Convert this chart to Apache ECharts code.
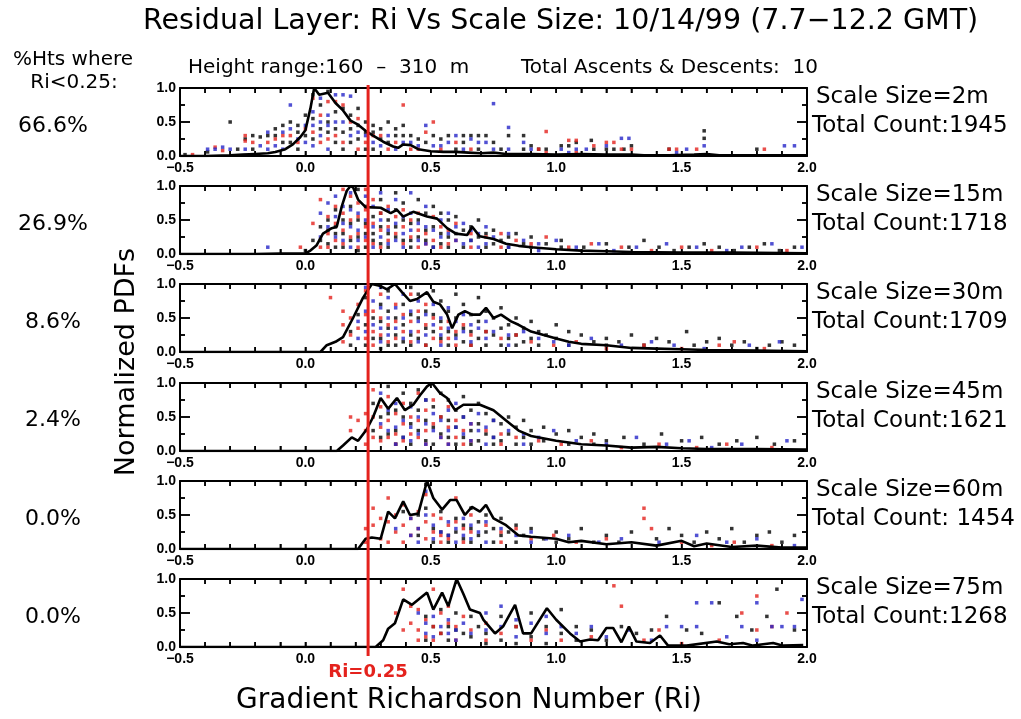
<!DOCTYPE html>
<html><head><meta charset="utf-8">
<script src="https://cdn.jsdelivr.net/npm/echarts@6/dist/echarts.min.js"></script>
<style>html,body{margin:0;padding:0;background:#fff}#wrap{position:relative;width:1021px;height:719px;background:#fff;overflow:hidden}</style>
</head><body><div id="wrap"></div>
<script>
// ---------- labels ----------
const titleText = 'Residual Layer: Ri Vs Scale Size: 10/14/99 (7.7\u221212.2 GMT)';
const heightRangeText = 'Height range:160  \u2013  310  m';
const ascentsText = 'Total Ascents & Descents:  10';
const scaleSizes = ['2m', '15m', '30m', '45m', '60m', '75m'];
const totalCounts = ['1945', '1718', '1709', '1621', ' 1454', '1268'];
const pctBelow = ['66.6%', '26.9%', '8.6%', '2.4%', '0.0%', '0.0%'];
const riCritical = 0.25;
const xTickValues = [-0.5,-0.4,-0.3,-0.2,-0.1,0.0,0.1,0.2,0.3,0.4,0.5,0.6,0.7,0.8,0.9,1.0,1.1,1.2,1.3,1.4,1.5,1.6,1.7,1.8,1.9,2.0];
const yTickValues = [0.0, 0.25, 0.5, 0.75, 1.0];

// ---------- normalized PDF lines ----------
const line2m = [[-0.5,0],[-0.4,0],[-0.3,0.01],[-0.25,0.02],[-0.2,0.03],[-0.15,0.04],[-0.12,0.06],[-0.08,0.1],[-0.05,0.17],[-0.02,0.28],[0.0,0.38],[0.02,0.7],[0.035,1.0],[0.055,0.9],[0.09,0.93],[0.12,0.78],[0.15,0.67],[0.18,0.52],[0.21,0.46],[0.24,0.37],[0.27,0.3],[0.31,0.21],[0.35,0.14],[0.37,0.12],[0.39,0.17],[0.42,0.16],[0.45,0.1],[0.5,0.07],[0.55,0.06],[0.6,0.06],[0.65,0.05],[0.7,0.04],[0.75,0.05],[0.8,0.03],[0.9,0.03],[1.0,0.02],[1.1,0.03],[1.2,0.02],[1.3,0.02],[1.35,0.01],[1.45,0.01],[1.55,0.02],[1.6,0.03],[1.65,0.01],[1.8,0.01],[2.0,0.01]];
const line15m = [[-0.5,0],[-0.2,0],[-0.1,0.005],[0.0,0.01],[0.02,0.05],[0.045,0.13],[0.07,0.3],[0.105,0.38],[0.125,0.4],[0.145,0.7],[0.165,0.93],[0.18,1.0],[0.19,0.98],[0.21,0.8],[0.24,0.69],[0.3,0.68],[0.34,0.6],[0.365,0.65],[0.39,0.55],[0.43,0.62],[0.485,0.55],[0.525,0.52],[0.565,0.38],[0.6,0.3],[0.645,0.28],[0.665,0.4],[0.695,0.26],[0.75,0.22],[0.8,0.15],[0.85,0.12],[0.9,0.1],[1.0,0.07],[1.1,0.05],[1.2,0.04],[1.3,0.03],[1.5,0.02],[1.7,0.02],[2.0,0.01]];
const line30m = [[-0.5,0],[0.06,0],[0.085,0.1],[0.12,0.15],[0.15,0.22],[0.19,0.5],[0.23,0.8],[0.265,1.0],[0.3,0.97],[0.325,0.92],[0.357,1.0],[0.385,0.88],[0.417,0.75],[0.445,0.78],[0.485,0.88],[0.51,0.74],[0.537,0.7],[0.565,0.55],[0.585,0.35],[0.61,0.55],[0.636,0.6],[0.664,0.55],[0.696,0.55],[0.72,0.65],[0.75,0.5],[0.78,0.55],[0.82,0.45],[0.85,0.4],[0.9,0.3],[0.95,0.25],[1.0,0.2],[1.05,0.15],[1.1,0.12],[1.2,0.1],[1.3,0.06],[1.4,0.05],[1.5,0.04],[1.6,0.03],[1.8,0.02],[2.0,0.01]];
const line45m = [[-0.5,0],[0.125,0],[0.15,0.08],[0.185,0.2],[0.21,0.15],[0.245,0.32],[0.27,0.5],[0.3,0.78],[0.33,0.62],[0.365,0.78],[0.397,0.6],[0.43,0.68],[0.457,0.82],[0.485,0.95],[0.505,1.0],[0.537,0.85],[0.565,0.78],[0.597,0.6],[0.63,0.68],[0.696,0.68],[0.75,0.6],[0.8,0.45],[0.85,0.3],[0.9,0.22],[1.0,0.15],[1.1,0.1],[1.2,0.08],[1.3,0.05],[1.4,0.06],[1.5,0.04],[1.6,0.03],[1.8,0.03],[2.0,0.02]];
const line60m = [[-0.5,0],[0.21,0],[0.24,0.15],[0.265,0.17],[0.3,0.15],[0.33,0.55],[0.357,0.45],[0.39,0.7],[0.417,0.5],[0.45,0.52],[0.485,1.0],[0.51,0.75],[0.545,0.58],[0.577,0.72],[0.603,0.72],[0.636,0.5],[0.664,0.62],[0.696,0.55],[0.72,0.65],[0.75,0.45],[0.8,0.35],[0.85,0.2],[0.9,0.18],[1.0,0.15],[1.05,0.1],[1.1,0.12],[1.2,0.07],[1.3,0.1],[1.4,0.05],[1.5,0.12],[1.55,0.04],[1.6,0.08],[1.7,0.03],[1.8,0.05],[1.9,0.02],[2.0,0.02]];
const line75m = [[-0.5,0],[0.28,0],[0.31,0.1],[0.33,0.27],[0.357,0.35],[0.39,0.7],[0.425,0.62],[0.485,0.8],[0.51,0.55],[0.545,0.8],[0.57,0.6],[0.603,1.0],[0.63,0.78],[0.656,0.55],[0.696,0.5],[0.71,0.4],[0.756,0.2],[0.788,0.3],[0.836,0.62],[0.868,0.2],[0.9,0.2],[0.963,0.57],[1.0,0.4],[1.055,0.2],[1.095,0.08],[1.135,0.11],[1.167,0.1],[1.2,0.28],[1.227,0.28],[1.26,0.07],[1.29,0.3],[1.32,0.08],[1.374,0.06],[1.414,0.17],[1.446,0.02],[1.52,0.02],[1.64,0.08],[1.69,0.04],[1.745,0.06],[1.785,0.02],[1.825,0.04],[1.865,0.06],[1.905,0.02],[1.985,0.03]];

// ---------- individual profile dots: [Ri, y, y, ...] columns ----------
const black2m = [[-0.48,0.02],[-0.39,0.06],[-0.3,0.5],[-0.27,0.1],[-0.24,0.25],[-0.21,0.3,0.1],[-0.18,0.28],[-0.15,0.3],[-0.12,0.4,0.3],[-0.09,0.45,0.2],[-0.06,0.5,0.2],[-0.03,0.45,0.35,0.1],[0.0,0.6,0.3],[0.03,0.9,0.55,0.25],[0.06,0.75,0.4],[0.09,0.95,0.5,0.35],[0.12,0.65,0.4,0.2],[0.15,0.7,0.35,0.1],[0.18,0.6,0.4,0.2],[0.21,0.7,0.45,0.25],[0.24,0.5,0.35,0.1],[0.27,0.45,0.35,0.1],[0.3,0.4,0.25],[0.33,0.5,0.2],[0.36,0.4,0.3],[0.39,0.45,0.3],[0.42,0.3],[0.45,0.25],[0.48,0.2],[0.51,0.3],[0.54,0.25],[0.57,0.3],[0.6,0.1],[0.63,0.3,0.2],[0.66,0.3],[0.69,0.3,0.1],[0.72,0.3],[0.75,0.2],[0.78,0.1],[0.81,0.3],[0.87,0.3,0.1],[0.9,0.15],[0.93,0.1],[0.96,0.1],[1.02,0.15],[1.05,0.15],[1.08,0.2],[1.14,0.23],[1.15,0.1],[1.2,0.1],[1.23,0.1],[1.27,0.1],[1.3,0.15],[1.45,0.1],[1.59,0.37,0.26],[1.8,0.1]];
const red2m = [[-0.45,0.02],[-0.36,0.13],[-0.33,0.08],[-0.24,0.3,0.22],[-0.21,0.2],[-0.15,0.2],[-0.12,0.25],[-0.09,0.3],[-0.06,0.3],[-0.03,0.2],[0.0,0.4],[0.03,0.85,0.35],[0.06,0.6,0.2],[0.09,0.8,0.25],[0.12,0.8,0.3],[0.15,0.75,0.2],[0.18,0.5],[0.21,0.55,0.1],[0.24,0.2],[0.27,0.3],[0.3,0.3],[0.33,0.1],[0.36,0.2],[0.39,0.75],[0.42,0.1],[0.45,0.1],[0.48,0.35],[0.51,0.5],[0.54,0.1],[0.6,0.2],[0.66,0.1],[0.93,0.1],[0.96,0.36,0.05],[1.05,0.23],[1.08,0.23,0.05],[1.15,0.15],[1.2,0.2],[1.23,0.2],[1.26,0.1],[1.3,0.1],[1.45,0.1],[1.48,0.1],[1.56,0.1],[1.83,0.1]];
const blue2m = [[-0.39,0.1],[-0.36,0.1],[-0.33,0.13],[-0.3,0.1],[-0.24,0.1],[-0.18,0.15],[-0.15,0.35,0.1],[-0.12,0.15],[-0.09,0.35,0.1],[-0.06,0.75,0.4],[-0.03,0.25],[0.0,0.45,0.2],[0.03,0.65,0.45,0.15],[0.06,0.85,0.5,0.3],[0.09,0.6,0.45,0.1],[0.12,0.9,0.5],[0.15,0.9,0.5],[0.18,0.88,0.3],[0.21,0.35],[0.24,0.3],[0.27,0.2],[0.3,0.15],[0.33,0.3],[0.36,0.1],[0.39,0.2],[0.42,0.2],[0.45,0.15],[0.48,0.45],[0.51,0.15],[0.54,0.15],[0.57,0.2],[0.6,0.3],[0.63,0.1],[0.66,0.25],[0.69,0.2],[0.72,0.2],[0.75,0.77,0.1],[0.81,0.42,0.1],[0.87,0.2],[0.9,0.1],[1.02,0.1],[1.05,0.05],[1.08,0.1],[1.12,0.1],[1.2,0.15],[1.26,0.26],[1.29,0.26],[1.48,0.05],[1.52,0.1],[1.59,0.15],[1.91,0.15],[1.95,0.15]];

const black15m = [[0.0,0.05],[0.03,0.2],[0.06,0.4,0.2],[0.09,0.5,0.35,0.15],[0.12,0.65,0.4,0.3,0.1],[0.15,0.5,0.3,0.1],[0.18,0.7,0.45,0.2],[0.21,0.95,0.5,0.25,0.05],[0.24,0.7,0.45,0.3,0.1],[0.27,0.55,0.3,0.2],[0.3,0.8,0.6,0.4,0.15],[0.33,0.5,0.3,0.1],[0.36,0.9,0.65,0.4,0.25],[0.39,0.75,0.5,0.2],[0.42,0.45,0.2,0.1],[0.45,0.8,0.5,0.25],[0.48,0.6,0.35,0.2],[0.51,0.7,0.4,0.1],[0.54,0.6,0.3,0.15],[0.57,0.5,0.25,0.1],[0.6,0.55,0.3],[0.63,0.35,0.1],[0.66,0.4,0.2],[0.69,0.5,0.25],[0.72,0.3,0.1],[0.75,0.35,0.15],[0.78,0.2],[0.81,0.25,0.1],[0.84,0.3],[0.87,0.15],[0.9,0.25,0.1],[0.96,0.15],[1.02,0.2,0.1],[1.11,0.1],[1.2,0.15],[1.29,0.1],[1.35,0.2],[1.41,0.1],[1.47,0.05],[1.53,0.1],[1.59,0.15],[1.65,0.1],[1.71,0.05],[1.77,0.1],[1.83,0.15],[1.89,0.05],[1.95,0.1]];
const red15m = [[-0.02,0.1],[0.03,0.45],[0.06,0.8,0.1],[0.09,0.55,0.3,0.1],[0.12,0.7,0.45,0.2],[0.15,0.95,0.6,0.35,0.15],[0.18,0.85,0.5,0.25],[0.21,0.75,0.55,0.3,0.1],[0.24,0.95,0.65,0.4,0.2],[0.27,0.8,0.45,0.15],[0.3,0.6,0.35,0.1],[0.33,0.7,0.4,0.2],[0.36,0.55,0.3],[0.39,0.65,0.4,0.15],[0.42,0.5,0.25],[0.45,0.6,0.35,0.1],[0.48,0.3,0.15],[0.51,0.55,0.2],[0.54,0.4,0.1],[0.57,0.35,0.15],[0.6,0.45,0.2],[0.66,0.3,0.1],[0.72,0.25],[0.78,0.3,0.1],[0.84,0.2],[0.9,0.15],[0.96,0.25],[1.05,0.1],[1.14,0.15],[1.26,0.1],[1.38,0.05],[1.5,0.1],[1.62,0.05],[1.8,0.1],[1.92,0.05]];
const blue15m = [[-0.15,0.1],[0.06,0.6,0.25],[0.09,0.75,0.4],[0.12,0.85,0.55,0.25],[0.15,0.7,0.45,0.2],[0.18,0.9,0.65,0.4,0.1],[0.21,0.6,0.35,0.2],[0.24,0.85,0.5,0.25],[0.27,0.7,0.4,0.1],[0.3,0.9,0.5,0.25],[0.33,0.65,0.35,0.15],[0.36,0.8,0.45,0.2],[0.39,0.55,0.3,0.1],[0.42,0.9,0.6,0.35],[0.45,0.45,0.2],[0.48,0.7,0.4,0.15],[0.51,0.35,0.1],[0.54,0.5,0.25],[0.57,0.6,0.3],[0.6,0.4,0.2],[0.63,0.45,0.15],[0.66,0.35,0.2],[0.69,0.3,0.1],[0.72,0.4,0.15],[0.75,0.25],[0.81,0.3,0.1],[0.87,0.2],[0.93,0.15,0.05],[1.0,0.2],[1.08,0.1],[1.17,0.15],[1.23,0.05],[1.32,0.1],[1.44,0.15],[1.56,0.1],[1.68,0.05],[1.74,0.1],[1.86,0.15],[1.98,0.1]];

const black30m = [[0.18,0.3,0.1],[0.21,0.55],[0.24,0.8,0.4,0.1],[0.27,0.5,0.2],[0.3,0.7,0.45,0.2,0.05],[0.33,0.9,0.6,0.35,0.1],[0.36,0.5,0.25,0.1],[0.39,0.7,0.4,0.15],[0.42,0.95,0.55,0.25,0.1],[0.45,0.85,0.5,0.2],[0.48,0.6,0.35,0.1],[0.51,0.9,0.55,0.3],[0.54,0.75,0.45,0.2],[0.57,0.6,0.3,0.1],[0.6,0.85,0.5,0.25],[0.63,0.7,0.35,0.15],[0.66,0.55,0.3,0.1],[0.69,0.8,0.45,0.2],[0.72,0.6,0.3,0.1],[0.75,0.5,0.25],[0.78,0.65,0.35,0.1],[0.81,0.4,0.2],[0.84,0.5,0.25,0.1],[0.87,0.35,0.15],[0.9,0.45,0.2],[0.93,0.3,0.1],[0.96,0.25],[1.0,0.4,0.2],[1.05,0.3,0.1],[1.1,0.25],[1.15,0.15],[1.2,0.2,0.1],[1.25,0.15],[1.3,0.25],[1.35,0.1],[1.4,0.2],[1.45,0.15],[1.52,0.3],[1.55,0.1],[1.6,0.15],[1.65,0.2],[1.7,0.1],[1.75,0.15],[1.8,0.05],[1.85,0.1],[1.9,0.15],[1.95,0.1]];
const red30m = [[0.1,0.8],[0.15,0.6,0.4,0.15],[0.18,0.5,0.25],[0.21,0.7,0.35],[0.24,0.9,0.55,0.2],[0.27,0.6,0.3,0.1],[0.3,0.85,0.5,0.25],[0.33,0.4,0.15],[0.36,0.7,0.45,0.2],[0.39,0.55,0.3],[0.42,0.85,0.45,0.15],[0.45,0.6,0.3],[0.48,0.7,0.4,0.1],[0.51,0.5,0.2],[0.54,0.35,0.15],[0.57,0.45,0.2],[0.6,0.3,0.1],[0.63,0.4],[0.66,0.25,0.1],[0.72,0.3],[0.78,0.2],[0.84,0.25],[0.9,0.15],[0.99,0.1],[1.08,0.15],[1.2,0.05],[1.35,0.1],[1.5,0.05],[1.65,0.1],[1.71,0.15],[1.83,0.05]];
const blue30m = [[0.21,0.45,0.2],[0.24,0.95,0.6,0.3],[0.27,0.75,0.4],[0.3,0.95,0.65,0.35,0.15],[0.33,0.8,0.5,0.25],[0.36,0.65,0.35],[0.39,0.85,0.5,0.2],[0.42,0.6,0.3],[0.45,0.75,0.45,0.15],[0.48,0.55,0.25],[0.51,0.7,0.4],[0.54,0.5,0.25,0.1],[0.57,0.65,0.35],[0.6,0.45,0.2],[0.63,0.55,0.3],[0.66,0.4,0.15],[0.69,0.35],[0.72,0.45,0.2],[0.75,0.3],[0.81,0.25,0.1],[0.87,0.3],[0.93,0.2],[0.99,0.15],[1.05,0.1],[1.14,0.2],[1.26,0.1],[1.38,0.15],[1.47,0.1],[1.59,0.05],[1.77,0.1],[1.89,0.15]];

const black45m = [[0.27,0.7,0.3],[0.3,0.5,0.2],[0.33,0.95,0.55,0.25],[0.36,0.6,0.3,0.1],[0.39,0.85,0.5,0.2],[0.42,0.7,0.4,0.1],[0.45,0.9,0.6,0.3],[0.48,0.75,0.45,0.15],[0.51,0.65,0.35,0.1],[0.54,0.85,0.5,0.25],[0.57,0.75,0.45,0.2],[0.6,0.6,0.35,0.1],[0.63,0.8,0.5,0.2],[0.66,0.6,0.3,0.1],[0.69,0.7,0.4,0.15],[0.72,0.55,0.25],[0.75,0.45,0.2,0.1],[0.78,0.4,0.15],[0.81,0.5,0.25],[0.84,0.35,0.1],[0.87,0.45,0.2],[0.9,0.3,0.1],[0.95,0.35,0.15],[1.0,0.25],[1.05,0.3,0.1],[1.1,0.2],[1.15,0.25,0.1],[1.2,0.15],[1.27,0.2],[1.35,0.1],[1.42,0.25],[1.5,0.15],[1.58,0.2],[1.65,0.1],[1.72,0.15],[1.8,0.2],[1.87,0.1],[1.95,0.15]];
const red45m = [[0.18,0.5,0.3],[0.21,0.45],[0.24,0.55,0.3,0.1],[0.27,0.9,0.5,0.2],[0.3,0.65,0.35,0.15],[0.33,0.8,0.45,0.2],[0.36,0.55,0.25,0.1],[0.39,0.7,0.4,0.15],[0.42,0.5,0.25],[0.45,0.85,0.45,0.2],[0.48,0.6,0.3,0.1],[0.51,0.75,0.4],[0.54,0.5,0.2],[0.57,0.65,0.35,0.1],[0.6,0.45,0.2],[0.63,0.3,0.1],[0.66,0.4,0.15],[0.72,0.3],[0.78,0.25,0.1],[0.84,0.2],[0.93,0.15],[1.02,0.1],[1.14,0.15],[1.26,0.05],[1.41,0.1],[1.56,0.05],[1.68,0.1],[1.86,0.05]];
const blue45m = [[0.3,0.85,0.4],[0.33,0.6,0.3],[0.36,0.7,0.35,0.1],[0.39,0.45,0.2],[0.42,0.65,0.35,0.15],[0.45,0.5,0.25],[0.48,0.75,0.4,0.1],[0.51,0.55,0.3],[0.54,0.45,0.2],[0.57,0.6,0.3,0.1],[0.6,0.7,0.35],[0.63,0.5,0.25],[0.66,0.4,0.15],[0.69,0.55,0.3],[0.72,0.35,0.1],[0.75,0.45,0.2],[0.81,0.3],[0.87,0.25,0.1],[0.93,0.2],[0.99,0.3],[1.08,0.15],[1.2,0.1],[1.32,0.2],[1.44,0.1],[1.53,0.15],[1.62,0.05],[1.74,0.1],[1.92,0.15]];

const black60m = [[0.39,0.55],[0.45,0.5,0.2],[0.48,0.95,0.6],[0.51,0.3,0.1],[0.54,0.55,0.25],[0.57,0.2,0.1],[0.6,0.45,0.25],[0.63,0.35,0.15],[0.66,0.6,0.3,0.1],[0.69,0.4,0.2],[0.72,0.5,0.25],[0.75,0.3,0.1],[0.78,0.45,0.2],[0.81,0.25],[0.84,0.35,0.1],[0.87,0.2],[0.9,0.3],[0.95,0.15],[1.0,0.25,0.1],[1.05,0.15],[1.1,0.3],[1.15,0.1],[1.2,0.2],[1.25,0.1],[1.3,0.25],[1.4,0.15],[1.45,0.3],[1.5,0.2],[1.55,0.1],[1.6,0.25],[1.65,0.15],[1.7,0.3],[1.75,0.1],[1.8,0.2],[1.85,0.25],[1.9,0.1],[1.95,0.2]];
const red60m = [[0.24,0.3,0.1],[0.27,0.6,0.35],[0.3,0.45,0.15],[0.33,0.75,0.4,0.1],[0.36,0.5,0.25],[0.39,0.65,0.35,0.1],[0.42,0.45,0.2],[0.45,0.55,0.3],[0.48,0.8,0.4,0.15],[0.51,0.5,0.25],[0.54,0.45,0.2,0.1],[0.57,0.35,0.15],[0.6,0.75,0.4],[0.63,0.3,0.1],[0.66,0.5,0.25],[0.72,0.35],[0.78,0.25,0.1],[0.84,0.3],[0.9,0.15],[0.99,0.2],[1.08,0.1],[1.2,0.15],[1.35,0.6,0.45],[1.38,0.3],[1.5,0.1],[1.62,0.05],[1.71,0.1],[1.86,0.05]];
const blue60m = [[0.36,0.3],[0.42,0.45,0.2],[0.45,0.3,0.1],[0.48,0.85,0.5],[0.51,0.35,0.15],[0.54,0.25],[0.57,0.4,0.2],[0.6,0.3,0.1],[0.63,0.45,0.2],[0.66,0.35,0.15],[0.69,0.25],[0.72,0.4,0.1],[0.78,0.3],[0.84,0.2],[0.9,0.25,0.1],[0.96,0.15],[1.05,0.2],[1.17,0.1],[1.26,0.15],[1.41,0.1],[1.56,0.2],[1.68,0.1],[1.8,0.15],[1.95,0.05]];

const black75m = [[0.48,0.45,0.1],[0.51,0.3],[0.54,0.55,0.2],[0.57,0.3,0.1],[0.6,0.5,0.25],[0.63,0.2],[0.66,0.45,0.15],[0.69,0.3],[0.72,0.2,0.05],[0.78,0.45,0.1],[0.84,0.3,0.05],[0.9,0.5,0.15],[0.96,0.3,0.05],[1.02,0.55,0.2],[1.08,0.3,0.1],[1.14,0.25],[1.2,0.1],[1.26,0.3],[1.32,0.2],[1.38,0.25],[1.44,0.45],[1.52,0.25],[1.58,0.2],[1.65,0.65],[1.72,0.45],[1.78,0.25],[1.84,0.45],[1.88,0.85],[1.95,0.25]];
const red75m = [[0.36,0.5],[0.39,0.85,0.25],[0.42,0.6,0.35],[0.45,0.55,0.25,0.1],[0.48,0.4,0.15],[0.51,0.85,0.3,0.1],[0.54,0.5,0.2],[0.57,0.6,0.35],[0.6,0.3,0.1],[0.63,0.45],[0.66,0.25],[0.72,0.35,0.1],[0.78,0.2],[0.84,0.3],[0.9,0.1],[0.96,0.25],[1.02,0.1],[1.14,0.15],[1.23,0.9],[1.26,0.6],[1.35,0.1],[1.41,0.25],[1.5,0.05],[1.65,0.1],[1.74,0.5],[1.8,0.75,0.25],[1.86,0.3],[1.92,0.5]];
const blue75m = [[0.45,0.5],[0.48,0.35,0.2],[0.51,0.45,0.15],[0.54,0.3],[0.57,0.4,0.2],[0.6,0.25,0.1],[0.63,0.35],[0.66,0.2],[0.72,0.5,0.25],[0.78,0.6,0.3],[0.84,0.4,0.15],[0.9,0.35],[0.96,0.45,0.2],[1.02,0.3],[1.08,0.2],[1.14,0.3],[1.2,0.15],[1.29,0.25],[1.38,0.1],[1.44,0.3],[1.5,0.3],[1.56,0.3,0.65],[1.62,0.65],[1.68,0.15],[1.74,0.3],[1.8,0.65,0.1],[1.86,0.3],[1.9,0.3],[1.95,0.3],[1.98,0.7]];

const pdfLines = [line2m, line15m, line30m, line45m, line60m, line75m];
const blackDots = [black2m, black15m, black30m, black45m, black60m, black75m];
const redDots = [red2m, red15m, red30m, red45m, red60m, red75m];
const blueDots = [blue2m, blue15m, blue30m, blue45m, blue60m, blue75m];

// ---------- build ----------
const FONT = 'DejaVu Sans';
const TICKFONT = 'Liberation Sans';
const RED = '#e4221d', BLUE = '#2626c8', BLACK = '#000';
const GL = 180, GR = 214, GT0 = 88, GH = 68, GS = 98.2, PAD = 20;
const toPts = cols => cols.flatMap(c => c.slice(1).map(y => [c[0], y]));
const wrap = document.getElementById('wrap');
const tickLine = {stroke: BLACK, lineWidth: 1.5};

// inward ticks on bottom and top edges, placed through the x scale
function xTickItem(params, api) {
  const v = api.value(0);
  const b = api.coord([v, 0]);
  const t = api.coord([v, 1]);
  return {type: 'group', children: [
    {type: 'line', shape: {x1: b[0], y1: b[1], x2: b[0], y2: b[1] - 5}, style: tickLine},
    {type: 'line', shape: {x1: t[0], y1: t[1], x2: t[0], y2: t[1] + 5}, style: tickLine}
  ]};
}
// inward ticks on left and right edges, placed through the y scale
function yTickItem(params, api) {
  const v = api.value(1);
  const l = api.coord([-0.5, v]);
  const r = api.coord([2, v]);
  const len = Math.abs(v * 2 - Math.round(v * 2)) < 1e-6 ? 10 : 5;
  return {type: 'group', children: [
    {type: 'line', shape: {x1: l[0], y1: l[1], x2: l[0] + len, y2: l[1]}, style: tickLine},
    {type: 'line', shape: {x1: r[0], y1: r[1], x2: r[0] - len, y2: r[1]}, style: tickLine}
  ]};
}

function panelOption(i) {
  const axLine = {show: true, onZero: false, lineStyle: {color: BLACK, width: 2}};
  const tickStyle = {color: BLACK, width: 1.5};
  const xb = {gridIndex: 0, type: 'value', min: -0.5, max: 2, interval: 0.5,
    axisLine: axLine, splitLine: {show: false},
    axisTick: {show: true, inside: true, length: 5, lineStyle: tickStyle},
    minorTick: {show: true, splitNumber: 5, length: 5, lineStyle: tickStyle}};
  const yb = {gridIndex: 0, type: 'value', min: 0, max: 1, interval: 0.5,
    axisLine: axLine, splitLine: {show: false},
    axisTick: {show: true, inside: true, length: 10, lineStyle: tickStyle},
    minorTick: {show: true, splitNumber: 2, length: 5, lineStyle: tickStyle}};
  const ax = {xAxisIndex: 0, yAxisIndex: 0, silent: true, animation: false};
  const series = [];
  [[blackDots[i], BLACK], [redDots[i], RED], [blueDots[i], BLUE]].forEach(([d, c]) => {
    series.push(Object.assign({type: 'scatter', symbol: 'rect', symbolSize: 3.5, itemStyle: {color: c}, data: toPts(d), z: 2}, ax));
  });
  series.push(Object.assign({type: 'line', data: pdfLines[i], symbol: 'none', lineStyle: {color: BLACK, width: 2.6}, z: 3}, ax));
  series.push(Object.assign({type: 'custom', renderItem: xTickItem, clip: false, z: 4, data: xTickValues.map(v => [v, 0])}, ax));
  series.push(Object.assign({type: 'custom', renderItem: yTickItem, clip: false, z: 4, data: yTickValues.map(v => [-0.5, v])}, ax));
  return {
    animation: false, backgroundColor: 'transparent',
    grid: [{left: GL, right: GR, top: PAD, height: GH}],
    xAxis: [
      Object.assign({}, xb, {position: 'bottom', axisLabel: {show: true, formatter: v => v.toFixed(1).replace('-', '\u2212'), fontFamily: TICKFONT, fontWeight: 'bold', fontSize: 14, color: BLACK, margin: 5}}),
      Object.assign({}, xb, {position: 'top', axisLabel: {show: false}})
    ],
    yAxis: [
      Object.assign({}, yb, {position: 'left', axisLabel: {show: true, formatter: v => v.toFixed(1), fontFamily: TICKFONT, fontWeight: 'bold', fontSize: 14, color: BLACK, margin: 4}}),
      Object.assign({}, yb, {position: 'right', axisLabel: {show: false}})
    ],
    series: series
  };
}

// one chart instance per panel
for (let i = 0; i < 6; i++) {
  const d = document.createElement('div');
  d.style.cssText = 'position:absolute;left:0;top:' + (GT0 + GS * i - PAD) + 'px;width:1021px;height:112px;';
  wrap.appendChild(d);
  echarts.init(d, null, {renderer: 'canvas'}).setOption(panelOption(i));
}

// overlay: texts + critical Ri line through all panels
const graphics = [];
for (let i = 0; i < 6; i++) {
  const top = GT0 + GS * i;
  graphics.push({type: 'text', x: 53, y: top + 38,
    style: {text: pctBelow[i], font: '22px "' + FONT + '"', fill: BLACK, textAlign: 'center', textVerticalAlign: 'middle'}});
  graphics.push({type: 'text', x: 816, y: top + 9,
    style: {text: 'Scale Size=' + scaleSizes[i], font: '23px "' + FONT + '"', fill: BLACK, textVerticalAlign: 'middle'}});
  graphics.push({type: 'text', x: 812, y: top + 38,
    style: {text: 'Total Count:' + totalCounts[i], font: '23px "' + FONT + '"', fill: BLACK, textVerticalAlign: 'middle'}});
}
graphics.push(
  {type: 'text', x: 143, y: 22, style: {text: titleText, font: '28.5px "' + FONT + '"', fill: BLACK, textVerticalAlign: 'middle'}},
  {type: 'text', x: 188, y: 68, style: {text: heightRangeText, font: '20px "' + FONT + '"', fill: BLACK, textVerticalAlign: 'middle'}},
  {type: 'text', x: 818, y: 68, style: {text: ascentsText, font: '20px "' + FONT + '"', fill: BLACK, textAlign: 'right', textVerticalAlign: 'middle'}},
  {type: 'text', x: 73, y: 60, style: {text: '%Hts where', font: '20px "' + FONT + '"', fill: BLACK, textAlign: 'center', textVerticalAlign: 'middle'}},
  {type: 'text', x: 74, y: 83, style: {text: 'Ri<0.25:', font: '20px "' + FONT + '"', fill: BLACK, textAlign: 'center', textVerticalAlign: 'middle'}},
  {type: 'text', x: 127, y: 362, rotation: Math.PI / 2, style: {text: 'Normalized PDFs', font: '27px "' + FONT + '"', fill: BLACK, textAlign: 'center', textVerticalAlign: 'middle'}},
  {type: 'text', x: 469, y: 701, style: {text: 'Gradient Richardson Number (Ri)', font: '28px "' + FONT + '"', fill: BLACK, textAlign: 'center', textVerticalAlign: 'middle'}}
);

const ovDiv = document.createElement('div');
ovDiv.style.cssText = 'position:absolute;left:0;top:0;width:1021px;height:719px;pointer-events:none;';
wrap.appendChild(ovDiv);
const ov = echarts.init(ovDiv, null, {renderer: 'canvas'});
ov.setOption({
  animation: false, backgroundColor: 'transparent',
  grid: [{left: GL, right: GR, top: GT0 - 3, bottom: 719 - (GT0 + GS * 5 + GH + 9)}],
  xAxis: [{type: 'value', min: -0.5, max: 2, show: false}],
  yAxis: [{type: 'value', min: 0, max: 1, show: false}],
  series: [{type: 'line', silent: true, symbol: 'none', data: [[riCritical, 0], [riCritical, 1]], lineStyle: {color: RED, width: 3}, z: 10}],
  graphic: graphics
});
const rx = ov.convertToPixel({xAxisIndex: 0}, riCritical);
const yBot = ov.convertToPixel({yAxisIndex: 0}, 0);
ov.setOption({graphic: graphics.concat([
  {type: 'text', z: 100, x: rx, y: yBot + 16, style: {text: 'Ri=' + riCritical.toFixed(2), font: 'bold 18px "' + FONT + '"', fill: RED, textAlign: 'center', textVerticalAlign: 'middle'}}
])});
</script>
</body></html>
